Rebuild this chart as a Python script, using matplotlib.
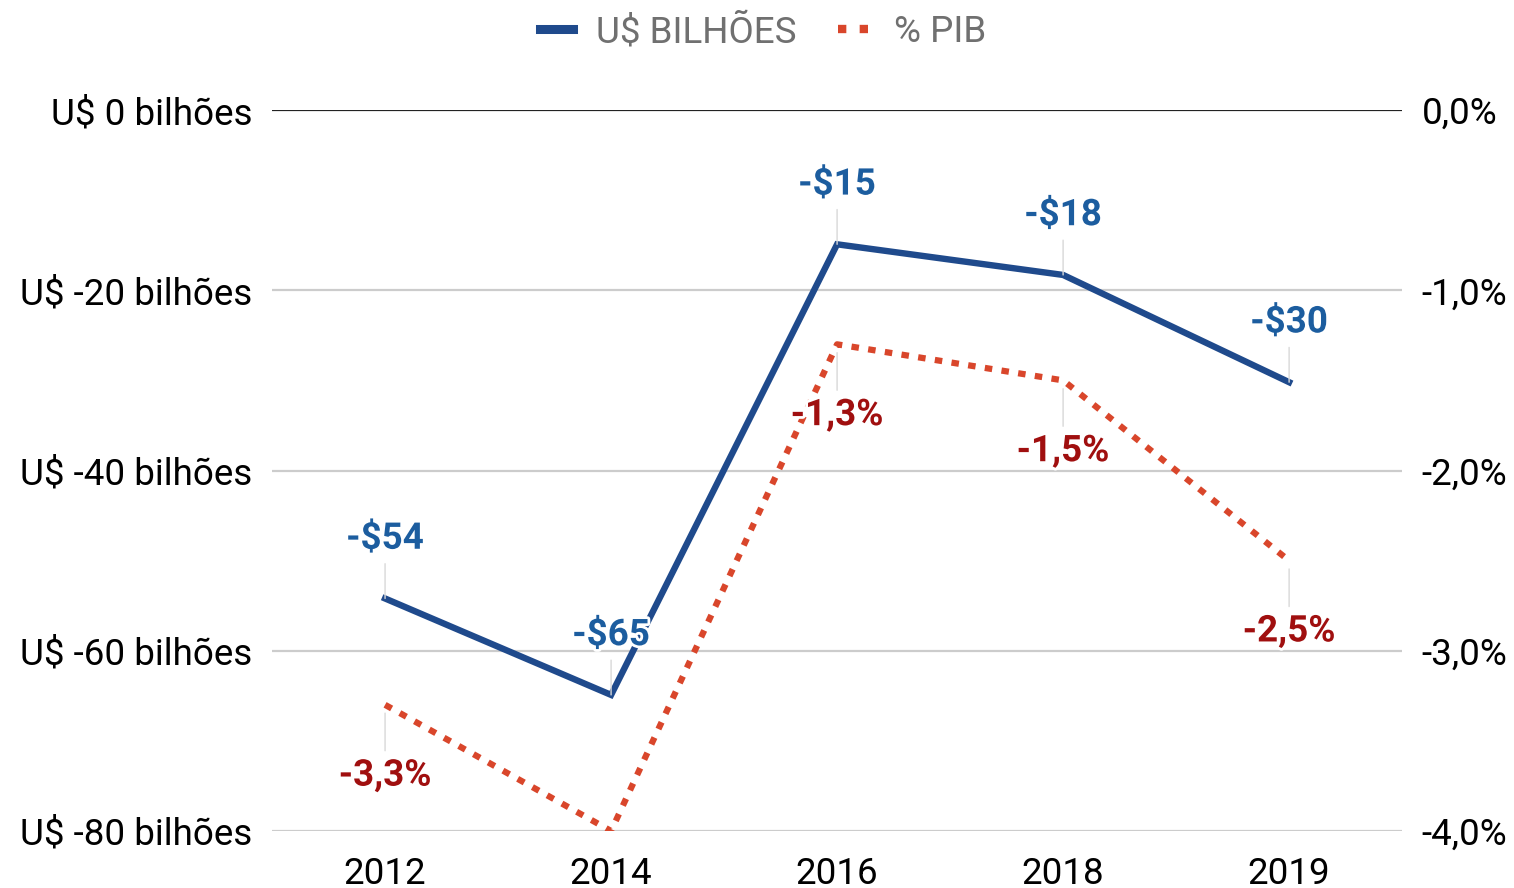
import matplotlib
matplotlib.use('Agg')
import matplotlib.pyplot as plt
import matplotlib.patheffects as pe
from matplotlib.lines import Line2D

plt.rcParams['font.family'] = ['Roboto', 'DejaVu Sans']

years = ['2012', '2014', '2016', '2018', '2019']
usd_bi = [-54.2, -64.9, -14.9, -18.3, -30.2]
usd_labels = ['-$54', '-$65', '-$15', '-$18', '-$30']
pib = [-3.3, -4.0, -1.3, -1.5, -2.5]
pib_labels = ['-3,3%', '-4,0%', '-1,3%', '-1,5%', '-2,5%']

left_ticks = [0, -20, -40, -60, -80]
left_ticklabels = ['U$ 0 bilhões', 'U$ -20 bilhões', 'U$ -40 bilhões', 'U$ -60 bilhões', 'U$ -80 bilhões']
right_ticks = [0, -1, -2, -3, -4]
right_ticklabels = ['0,0%', '-1,0%', '-2,0%', '-3,0%', '-4,0%']

blue = '#1f4a8c'
blue_lbl = '#1c5d9f'
red = '#d9462b'
red_lbl = '#a00f0f'
fs = 26.5

fig = plt.figure(figsize=(15.14, 8.88), dpi=100)
ax = fig.add_axes([0.1797, 0.0642, 0.7464, 0.8119])
ax2 = ax.twinx()

x = list(range(len(years)))
ax.set_xlim(-0.5, len(years) - 0.5)
ax.set_ylim(-80, 0)
ax2.set_ylim(-4, 0)

for t in left_ticks:
    ax.axhline(t, color='#222222' if t == 0 else '#cccccc', lw=1.6, zorder=0)

ax.plot(x, usd_bi, color=blue, lw=4.6, solid_joinstyle='miter', zorder=3)
ax2.plot(x, pib, color=red, lw=4.5, linestyle=(0, (1.2, 1.5)), dash_capstyle='butt', zorder=3)

halo = [pe.withStroke(linewidth=4, foreground='white')]
for i, (v, lbl) in enumerate(zip(usd_bi, usd_labels)):
    ax.annotate(lbl, xy=(i, v), xytext=(0, 43), textcoords='offset points',
                ha='center', va='center', fontsize=fs, fontweight='bold', color=blue_lbl,
                path_effects=halo, zorder=5,
                arrowprops=dict(arrowstyle='-', color='#d8d8d8', lw=1, shrinkA=3, shrinkB=0))
for i, (v, lbl) in enumerate(zip(pib, pib_labels)):
    if v <= ax2.get_ylim()[0]:
        continue
    ax2.annotate(lbl, xy=(i, v), xytext=(0, -51), textcoords='offset points',
                 ha='center', va='center', fontsize=fs, fontweight='bold', color=red_lbl,
                 path_effects=halo, zorder=5,
                 arrowprops=dict(arrowstyle='-', color='#d8d8d8', lw=1, shrinkA=3, shrinkB=6))

ax.set_xticks(x)
ax.set_xticklabels(years, fontsize=fs)
ax.set_yticks(left_ticks)
ax.set_yticklabels(left_ticklabels, fontsize=fs)
ax2.set_yticks(right_ticks)
ax2.set_yticklabels(right_ticklabels, fontsize=fs)
ax.tick_params(axis='y', length=0, pad=14)
ax.tick_params(axis='x', length=0, pad=18)
ax2.tick_params(axis='y', length=0, pad=14)
for a in (ax, ax2):
    for s in a.spines.values():
        s.set_visible(False)

handles = [Line2D([], [], color=blue, lw=6.5),
           Line2D([], [], color=red, lw=6, linestyle=(0, (1, 1.6)), dash_capstyle='butt')]
fig.legend(handles, ['U$ BILHÕES', '% PIB'], loc='center', bbox_to_anchor=(0.504, 0.964),
           ncol=2, frameon=False, fontsize=fs, labelcolor='#707070',
           handlelength=0.9, columnspacing=1.15, handletextpad=0.6)

fig.savefig('out.png', dpi=100)
